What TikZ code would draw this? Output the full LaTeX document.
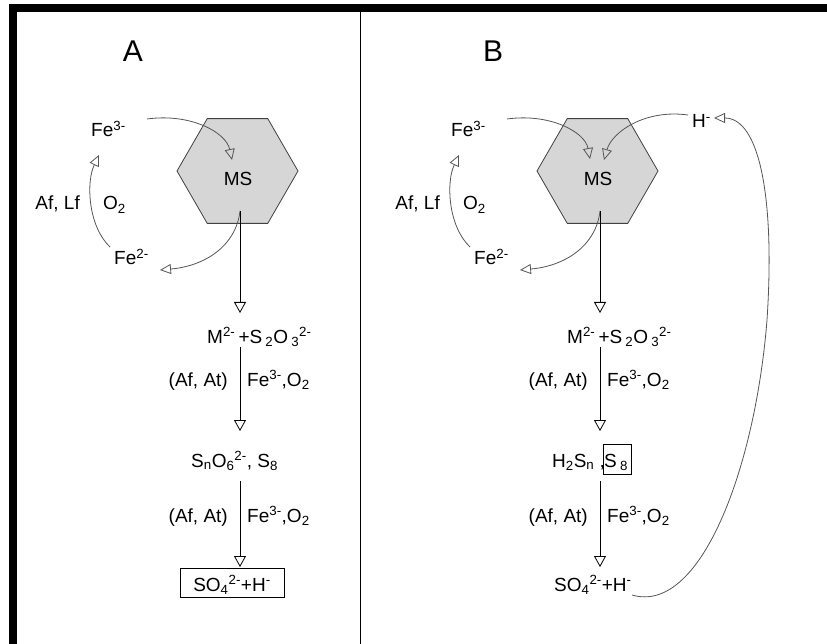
\documentclass[tikz,border=0pt]{standalone}
\usepackage{fontspec}
\setmainfont{Liberation Sans}
\usetikzlibrary{arrows.meta,shapes.geometric}
\definecolor{hexfill}{RGB}{214,214,214}
\definecolor{curvecol}{RGB}{85,85,85}
\begin{document}
\begin{tikzpicture}[x=1pt,y=-1pt,
  txt/.style={inner sep=0pt, font=\fontsize{19}{22}\selectfont},
  big/.style={inner sep=0pt, font=\fontsize{30}{34}\selectfont},
  hexa/.style={regular polygon, regular polygon sides=6, minimum size=121pt,
               inner sep=0pt, fill=hexfill, draw=black!75, line width=0.8pt},
  flow/.style={draw=black, line width=0.8pt, -{Triangle[open,length=11pt,width=12pt]}},
  curv/.style={draw=curvecol, line width=0.8pt, -{Triangle[open,length=11pt,width=10pt]}},
  boxd/.style={draw=black, line width=0.8pt, inner sep=0pt}
]
\useasboundingbox (0,0) rectangle (827,644);
% frame
\fill[black] (9,4) rectangle (827,12);
\fill[black] (9,4) rectangle (17,644);
\draw[line width=0.9pt] (360,12) -- (360,644);

% ---------------- Panel A ----------------
\node[big, anchor=base] (labA) at (133,62) {A};
\node[hexa] (hexA) at (237.5,171) {};
\node[txt, anchor=base] (msA) at (238,186) {MS};
\coordinate (inA) at (240,211);
\coordinate (tipA1) at (232,160);
\node[txt, anchor=base west] (fe3A) at (91,137) {Fe\textsuperscript{3-}};
\node[txt, anchor=base west] (fe2A) at (114,265) {Fe\textsuperscript{2-}};
\node[txt, anchor=base east] (aflfA) at (80,210) {Af, Lf};
\node[txt, anchor=base west] (o2A) at (103,210) {O\textsubscript{2}};
\coordinate (tipA2) at (99,155);
\coordinate (tipA3) at (160,270);
\draw[curv] (147,119) .. controls (190,113) and (226,132) .. (tipA1);
\draw[curv] (110,247) .. controls (88,226) and (86,182) .. (tipA2);
\draw[curv] (inA) .. controls (236,246) and (205,266) .. (tipA3);

\node[txt, anchor=base west] (mA) at (207,343) {M\textsuperscript{2-}\,+S\,\textsubscript{2}O\,\textsubscript{3}\textsuperscript{2-}};
\draw[flow] (inA) -- (240,313);
\node[txt, anchor=base east] (afatA1) at (228,386) {(Af, At)};
\node[txt, anchor=base west] (feoA1) at (247,386) {Fe\textsuperscript{3-},O\textsubscript{2}};
\draw[flow] (240,347) -- (240,431);
\node[txt, anchor=base west] (snA) at (191,467) {S\textsubscript{n}O\textsubscript{6}\textsuperscript{2-}, S\textsubscript{8}};
\draw[flow] (240,481) -- (240,567);
\node[txt, anchor=base east] (afatA2) at (228,522) {(Af, At)};
\node[txt, anchor=base west] (feoA2) at (247,522) {Fe\textsuperscript{3-},O\textsubscript{2}};
\node[boxd, minimum width=104pt, minimum height=29pt] (boxA) at (232,582.5) {};
\node[txt, anchor=base] (so4A) at (232,591) {SO\textsubscript{4}\textsuperscript{2-}+H\textsuperscript{-}};

% ---------------- Panel B ----------------
\node[big, anchor=base] (labB) at (493,62) {B};
\node[hexa] (hexB) at (597.5,171) {};
\node[txt, anchor=base] (msB) at (598,186) {MS};
\coordinate (inB) at (600,211);
\coordinate (tipB1) at (590,159);
\coordinate (tipB4) at (604,160);
\node[txt, anchor=base west] (fe3B) at (451,137) {Fe\textsuperscript{3-}};
\node[txt, anchor=base west] (fe2B) at (474,265) {Fe\textsuperscript{2-}};
\node[txt, anchor=base east] (aflfB) at (440,210) {Af, Lf};
\node[txt, anchor=base west] (o2B) at (463,210) {O\textsubscript{2}};
\node[txt, anchor=base west] (hB) at (692,128) {H\textsuperscript{-}};
\coordinate (tipB2) at (459,155);
\coordinate (tipB3) at (520,270);
\coordinate (tipH) at (714,118);
\draw[curv] (507,119) .. controls (550,113) and (585,132) .. (tipB1);
\draw[curv] (470,247) .. controls (448,226) and (446,182) .. (tipB2);
\draw[curv] (inB) .. controls (596,246) and (565,266) .. (tipB3);
\draw[curv] (688,115) .. controls (645,109) and (612,132) .. (tipB4);

\node[txt, anchor=base west] (mB) at (567,343) {M\textsuperscript{2-}\,+S\,\textsubscript{2}O\,\textsubscript{3}\textsuperscript{2-}};
\draw[flow] (inB) -- (600,313);
\node[txt, anchor=base east] (afatB1) at (588,386) {(Af, At)};
\node[txt, anchor=base west] (feoB1) at (607,386) {Fe\textsuperscript{3-},O\textsubscript{2}};
\draw[flow] (600,347) -- (600,431);
\node[txt, anchor=base west] (h2snB) at (552,467) {H\textsubscript{2}S\textsubscript{n} ,};
\node[boxd, minimum width=28pt, minimum height=30pt] (s8box) at (617,459) {};
\node[txt, anchor=base west] (s8B) at (604,467) {S\,\textsubscript{8}};
\draw[flow] (600,481) -- (600,567);
\node[txt, anchor=base east] (afatB2) at (588,522) {(Af, At)};
\node[txt, anchor=base west] (feoB2) at (607,522) {Fe\textsuperscript{3-},O\textsubscript{2}};
\node[txt, anchor=base west] (so4B) at (554,591) {SO\textsubscript{4}\textsuperscript{2-}+H\textsuperscript{-}};
\coordinate (startLoop) at (632,595);
\draw[curv] (startLoop) .. controls (700,615) and (755,470) .. (767,320)
            .. controls (775,200) and (760,118) .. (tipH);
\end{tikzpicture}
\end{document}
